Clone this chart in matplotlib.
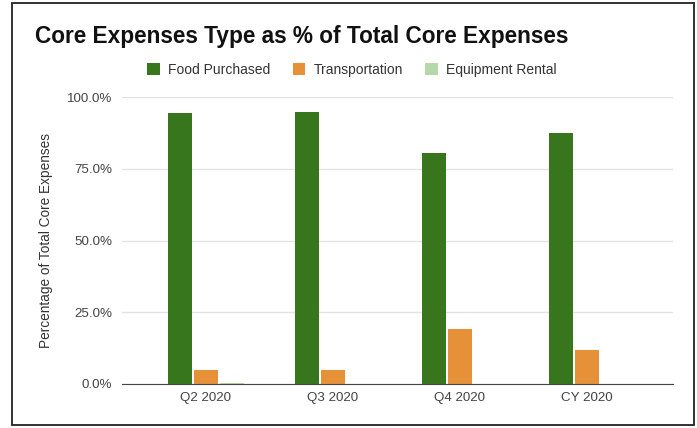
import numpy as np
import matplotlib
matplotlib.use("Agg")
import matplotlib.pyplot as plt
from matplotlib.patches import Rectangle
from matplotlib.ticker import PercentFormatter

categories = ["Q2 2020", "Q3 2020", "Q4 2020", "CY 2020"]
food = [94.4, 94.8, 80.5, 87.6]
transport = [4.9, 4.9, 19.2, 11.8]
equipment = [0.4, 0.0, 0.0, 0.0]
series = ["Food Purchased", "Transportation", "Equipment Rental"]
colors = ["#38761d", "#e69138", "#b6d7a8"]

plt.rcParams["font.family"] = ["Liberation Sans", "DejaVu Sans"]

fig = plt.figure(figsize=(6.97, 4.28), dpi=100)
ax = fig.add_axes([122 / 697, 1 - 384 / 428, (673 - 122) / 697, (384 - 97) / 428])

x = np.arange(len(categories))
w = 0.19
step = 0.205
for i, (vals, name, c) in enumerate(zip([food, transport, equipment], series, colors)):
    ax.bar(x + (i - 1) * step, vals, w, color=c, label=name, zorder=3)

ax.set_ylim(0, 100)
ax.set_xlim(-0.66, 3.68)
ax.set_yticks([0, 25, 50, 75, 100])
ax.yaxis.set_major_formatter(PercentFormatter(decimals=1))
ax.set_xticks(x)
ax.set_xticklabels(categories)
ax.grid(axis="y", color="#e3e3e3", linewidth=1, zorder=0)
ax.tick_params(length=0, labelsize=9.6, labelcolor="#444444")
ax.tick_params(axis="y", pad=7)
ax.tick_params(axis="x", pad=6)
for s in ["top", "right", "left"]:
    ax.spines[s].set_visible(False)
ax.spines["bottom"].set_color("#444444")
ax.spines["bottom"].set_zorder(4)
ax.set_ylabel("Percentage of Total Core Expenses", fontsize=9.8, color="#333333", labelpad=10)

fig.text(35 / 697, 1 - 36 / 428, "Core Expenses Type as % of Total Core Expenses",
         fontsize=16.3, fontweight="bold", color="#111111", va="center")
fig.legend(loc="center", bbox_to_anchor=(352 / 697, 1 - 70 / 428), ncol=3, frameon=False,
           fontsize=10, handlelength=0.9, handleheight=0.9, columnspacing=1.6,
           handletextpad=0.6, labelcolor="#333333")

fig.patches.append(Rectangle((12 / 697, 3 / 428), (694 - 12) / 697, (425 - 3) / 428,
                             transform=fig.transFigure, fill=False,
                             edgecolor="#222222", linewidth=1.3))

fig.savefig("out.png", dpi=100)
